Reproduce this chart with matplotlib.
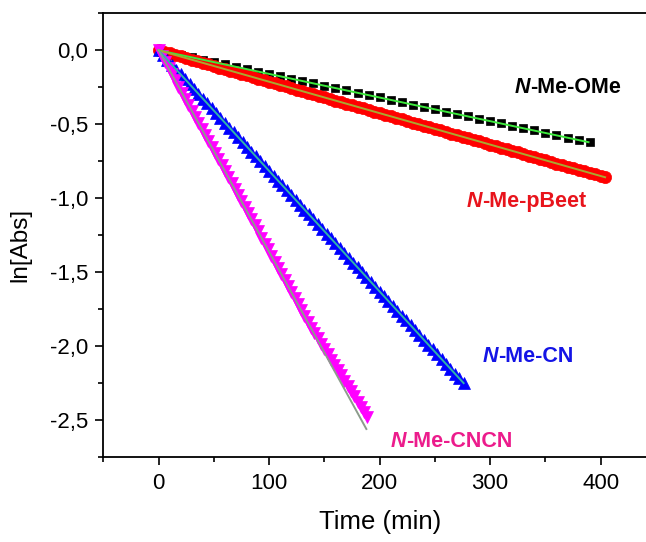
import matplotlib
matplotlib.use("Agg")
import matplotlib.pyplot as plt
from matplotlib.ticker import MultipleLocator, FuncFormatter

plt.rcParams['font.family'] = ['Liberation Sans', 'DejaVu Sans']

# ---------------- data ----------------
t_ome = list(range(0, 400, 10))
y_ome = [0.000, -0.016, -0.032, -0.048, -0.064, -0.080, -0.096, -0.112, -0.128, -0.144,
         -0.160, -0.175, -0.191, -0.207, -0.223, -0.239, -0.255, -0.271, -0.287, -0.303,
         -0.319, -0.335, -0.351, -0.367, -0.383, -0.399, -0.415, -0.431, -0.447, -0.463,
         -0.479, -0.494, -0.510, -0.526, -0.542, -0.558, -0.574, -0.590, -0.606, -0.622]

t_pbeet = list(range(0, 401, 5)) + [404]
y_pbeet = [0.000, -0.011, -0.021, -0.032, -0.042, -0.053, -0.064, -0.074, -0.085, -0.096,
           -0.106, -0.117, -0.127, -0.138, -0.149, -0.159, -0.170, -0.181, -0.191, -0.202,
           -0.212, -0.223, -0.234, -0.244, -0.255, -0.265, -0.276, -0.287, -0.297, -0.308,
           -0.319, -0.329, -0.340, -0.350, -0.361, -0.372, -0.382, -0.393, -0.404, -0.414,
           -0.425, -0.435, -0.446, -0.457, -0.467, -0.478, -0.488, -0.499, -0.510, -0.520,
           -0.531, -0.542, -0.552, -0.563, -0.573, -0.584, -0.595, -0.605, -0.616, -0.627,
           -0.637, -0.648, -0.658, -0.669, -0.680, -0.690, -0.701, -0.711, -0.722, -0.733,
           -0.743, -0.754, -0.765, -0.775, -0.786, -0.796, -0.807, -0.818, -0.828, -0.839,
           -0.850, -0.858]

t_cn = list(range(0, 277, 4))
y_cn = [0.000, -0.033, -0.065, -0.098, -0.130, -0.163, -0.196, -0.228, -0.261, -0.293,
        -0.326, -0.359, -0.391, -0.424, -0.456, -0.489, -0.522, -0.554, -0.587, -0.619,
        -0.652, -0.684, -0.717, -0.750, -0.782, -0.815, -0.847, -0.880, -0.913, -0.945,
        -0.978, -1.010, -1.043, -1.076, -1.108, -1.141, -1.173, -1.206, -1.238, -1.271,
        -1.304, -1.336, -1.369, -1.401, -1.434, -1.467, -1.499, -1.532, -1.564, -1.597,
        -1.630, -1.662, -1.695, -1.727, -1.760, -1.793, -1.825, -1.858, -1.890, -1.923,
        -1.956, -1.988, -2.021, -2.053, -2.086, -2.119, -2.151, -2.184, -2.216, -2.249]

t_cncn = list(range(0, 190, 3))
y_cncn = [0.000, -0.041, -0.082, -0.122, -0.163, -0.204, -0.245, -0.286, -0.326, -0.367,
          -0.408, -0.449, -0.490, -0.530, -0.571, -0.612, -0.653, -0.694, -0.734, -0.775,
          -0.816, -0.857, -0.898, -0.938, -0.979, -1.020, -1.061, -1.102, -1.142, -1.183,
          -1.224, -1.265, -1.306, -1.346, -1.387, -1.428, -1.469, -1.510, -1.550, -1.591,
          -1.632, -1.673, -1.714, -1.754, -1.795, -1.836, -1.877, -1.913, -1.947, -1.983,
          -2.019, -2.055, -2.090, -2.125, -2.161, -2.196, -2.232, -2.268, -2.302, -2.338,
          -2.374, -2.410, -2.445, -2.480]

# linear fits (end points)
fit_ome_t, fit_ome_y = [0, 389], [0.0, -0.621]
fit_pbeet_t, fit_pbeet_y = [0, 404], [0.0, -0.858]
fit_cn_t, fit_cn_y = [0, 276], [0.0, -2.249]
fit_cncn_t, fit_cncn_y = [0, 188], [0.0, -2.559]

labels = ["-Me-OMe", "-Me-pBeet", "-Me-CN", "-Me-CNCN"]
label_x = [322, 279, 293, 210]
label_y = [-0.25, -1.02, -2.07, -2.64]
label_colors = ["black", "#e8141c", "#1414e6", "#ec1c8c"]

# ---------------- figure ----------------
fig = plt.figure(figsize=(6.46, 5.42), dpi=100)
ax = fig.add_axes([0.1599, 0.1563, 0.8401, 0.8192])

ax.plot(t_ome, y_ome, ls='none', marker='s', ms=6.3, color='black', mec='black', mew=0.5, zorder=2)
ax.plot(t_pbeet, y_pbeet, ls='none', marker='o', ms=8.8, color='#ff0000', mec='#ff0000', mew=0.5, zorder=3)
ax.plot(t_cn, y_cn, ls='none', marker='^', ms=8.5, color='#0000ff', mec='#0000ff', mew=0.5, zorder=4)
ax.plot(t_cncn, y_cncn, ls='none', marker='v', ms=8.5, color='#ff00ff', mec='#ff00ff', mew=0.5, zorder=5)

ax.plot(fit_ome_t, fit_ome_y, color='#3ce83c', lw=1.4, zorder=6)
ax.plot(fit_pbeet_t, fit_pbeet_y, color='#a8a830', lw=1.4, zorder=6)
ax.plot(fit_cn_t, fit_cn_y, color='#30b4a8', lw=1.4, zorder=6)
ax.plot(fit_cncn_t, fit_cncn_y, color='#8c9c8c', lw=1.4, zorder=6)

for lab, lx, ly, lc in zip(labels, label_x, label_y, label_colors):
    tN = ax.text(lx, ly, "N", color=lc, fontsize=15.5, fontweight='bold', fontstyle='italic',
                 ha='left', va='center', zorder=7)
    ax.annotate(lab, xy=(1, 0), xycoords=tN, color=lc, fontsize=15.5, fontweight='bold',
                ha='left', va='bottom', zorder=7)

ax.set_xlim(-50, 441)
ax.set_ylim(-2.75, 0.25)

ax.xaxis.set_major_locator(MultipleLocator(100))
ax.xaxis.set_minor_locator(MultipleLocator(50))
ax.yaxis.set_major_locator(MultipleLocator(0.5))
ax.yaxis.set_minor_locator(MultipleLocator(0.25))
ax.yaxis.set_major_formatter(FuncFormatter(lambda v, p: f"{v:.1f}".replace('.', ',')))

ax.spines['right'].set_visible(False)
for s in ['left', 'top', 'bottom']:
    ax.spines[s].set_linewidth(1.3)

ax.tick_params(which='major', direction='out', length=6, width=1.2, labelsize=16, pad=5,
               right=False, top=False)
ax.tick_params(which='minor', direction='out', length=3.5, width=1.2, right=False, top=False)

ax.set_xlabel("Time (min)", fontsize=18.5)
ax.set_ylabel("ln[Abs]", fontsize=17.5)
ax.xaxis.set_label_coords(0.51, -0.118)
ax.yaxis.set_label_coords(-0.132, 0.478)

fig.savefig("out.png", dpi=100)
